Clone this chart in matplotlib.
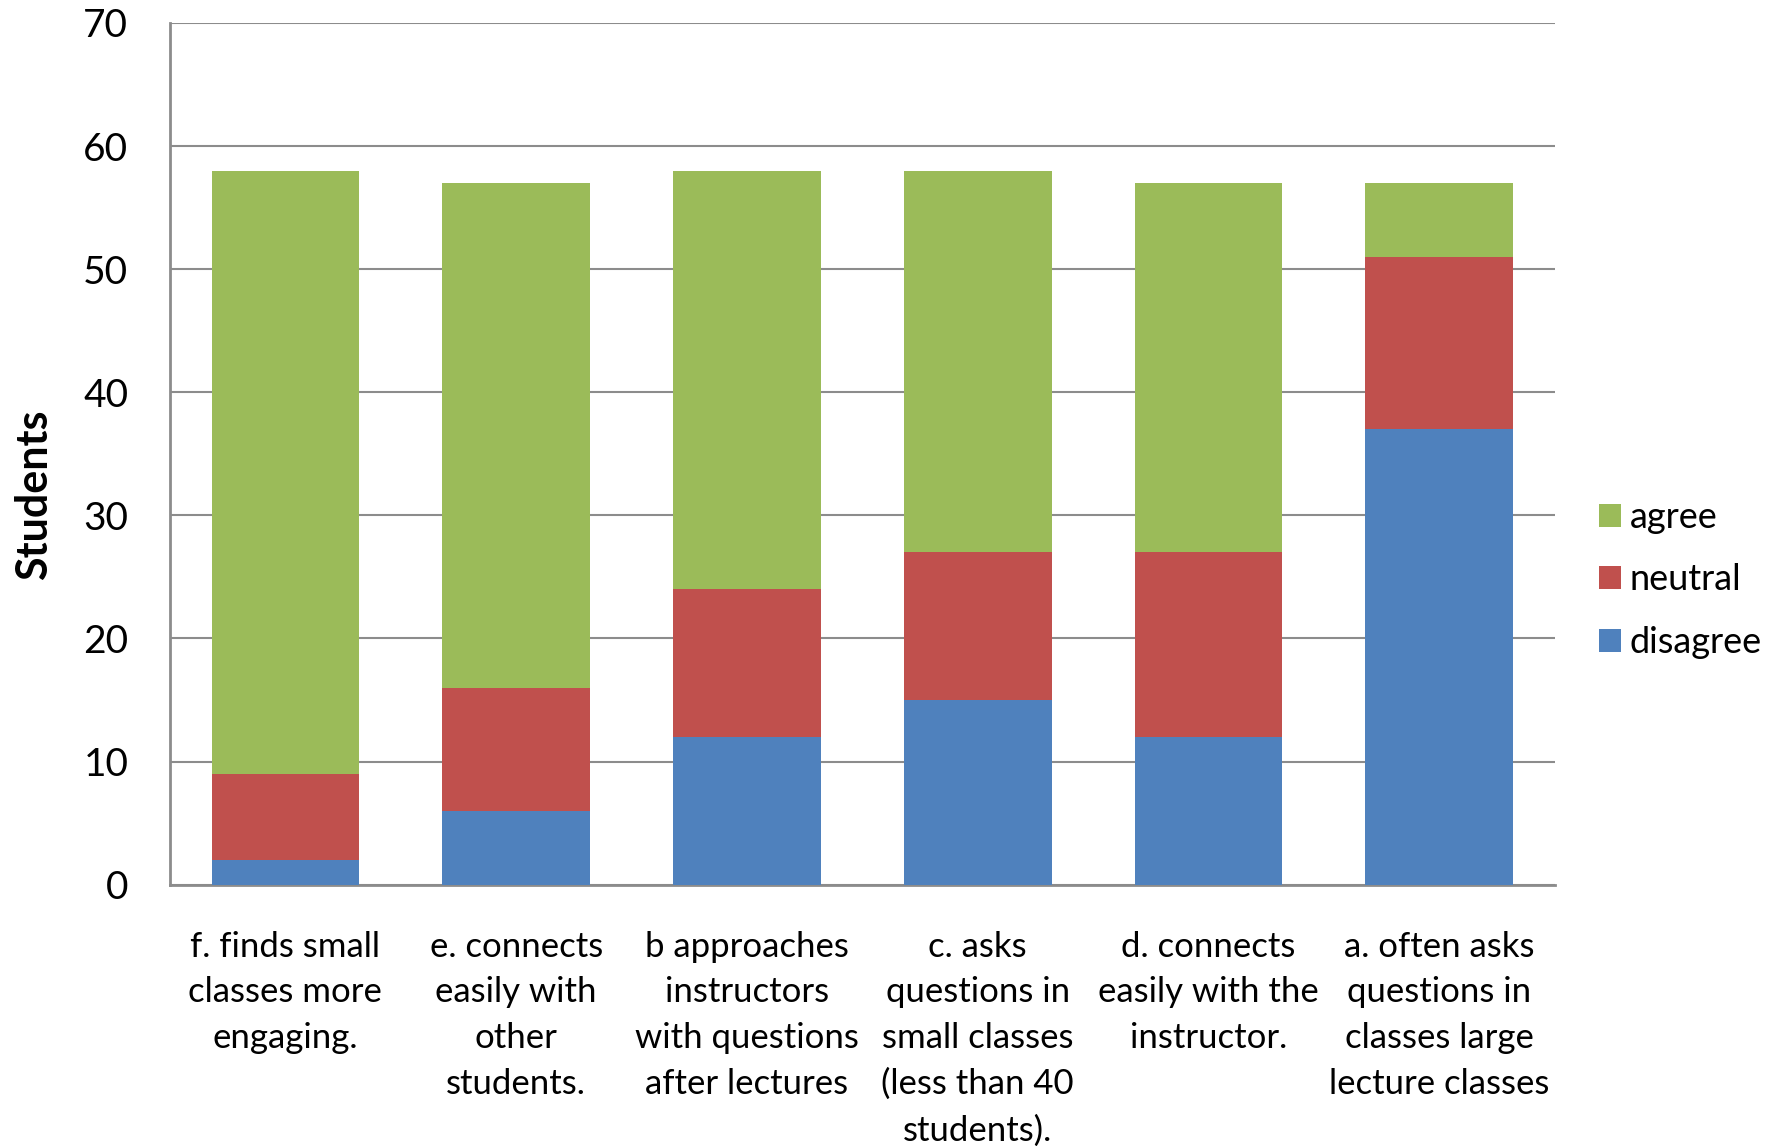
import matplotlib
matplotlib.use("Agg")
import matplotlib.pyplot as plt
import numpy as np

categories = [
    "f. finds small\nclasses more\nengaging.",
    "e. connects\neasily with\nother\nstudents.",
    "b approaches\ninstructors\nwith questions\nafter lectures",
    "c. asks\nquestions in\nsmall classes\n(less than 40\nstudents).",
    "d. connects\neasily with the\ninstructor.",
    "a. often asks\nquestions in\nclasses large\nlecture classes",
]
disagree = [2, 6, 12, 15, 12, 37]
neutral = [7, 10, 12, 12, 15, 14]
agree = [49, 41, 34, 31, 30, 6]
yticks = [0, 10, 20, 30, 40, 50, 60, 70]

plt.rcParams['font.family'] = ['Lato', 'DejaVu Sans']

fig = plt.figure(figsize=(17.73, 11.46), dpi=100)
ax = fig.add_axes([0.0959, 0.228, 0.781, 0.752])

x = np.arange(len(categories))
w = 0.64
c_dis = '#4F81BD'
c_neu = '#C0504D'
c_agr = '#9BBB59'
d = np.array(disagree); n = np.array(neutral); a = np.array(agree)
b1 = ax.bar(x, d, w, color=c_dis, label='disagree', zorder=3)
b2 = ax.bar(x, n, w, bottom=d, color=c_neu, label='neutral', zorder=3)
b3 = ax.bar(x, a, w, bottom=d + n, color=c_agr, label='agree', zorder=3)

ax.set_ylim(0, 70)
ax.set_xlim(-0.5, len(categories) - 0.5)
ax.set_yticks(yticks)
ax.set_yticklabels([str(v) for v in yticks], fontsize=28)
ax.tick_params(axis='y', length=0, pad=30)
ax.set_xticks(x)
ax.set_xticklabels(categories, fontsize=25, linespacing=1.53, va='top')
ax.tick_params(axis='x', length=0, pad=33)
ax.grid(axis='y', color='#8C8C8C', linewidth=1.5, zorder=0)
for s in ['top', 'right']:
    ax.spines[s].set_visible(False)
for s in ['left', 'bottom']:
    ax.spines[s].set_color('#8C8C8C')
    ax.spines[s].set_linewidth(2)
ax.set_ylabel('Students', fontsize=31, fontweight='bold')
ax.yaxis.set_label_coords(-0.084, 0.453)

leg = fig.legend(handles=[b3, b2, b1], labels=['agree', 'neutral', 'disagree'],
                 loc='center left', bbox_to_anchor=(0.902, 0.494), frameon=False,
                 fontsize=26, handlelength=0.6, handleheight=0.6,
                 handletextpad=0.25, labelspacing=0.82, borderpad=0, borderaxespad=0)

fig.savefig('out.png', dpi=100)
